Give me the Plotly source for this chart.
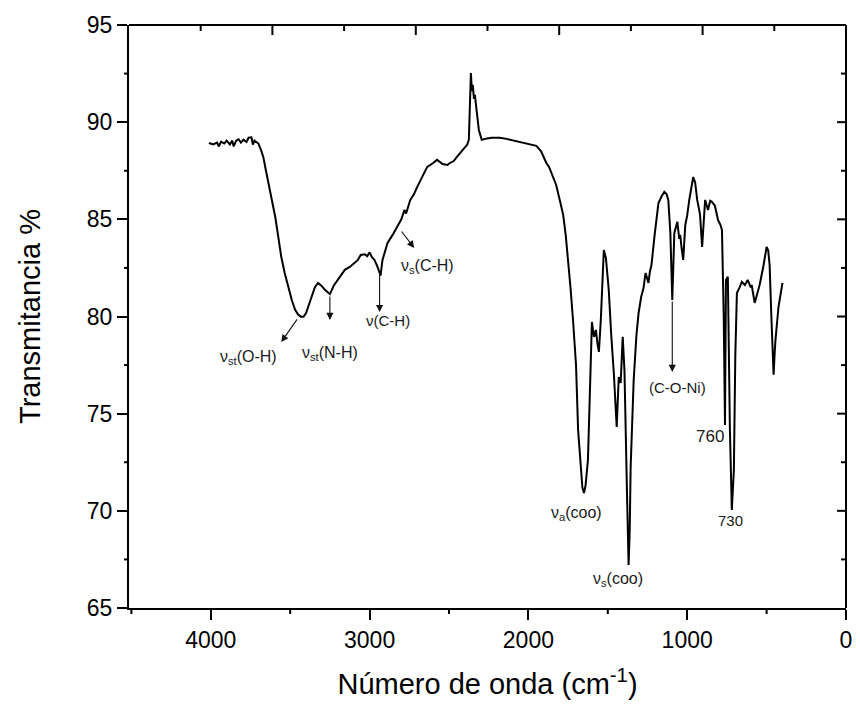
import plotly.graph_objects as go

# Spectrum (wavenumber cm-1, transmittance %)
wavenumber = [4012, 3985, 3960, 3950, 3935, 3915, 3900, 3880, 3865, 3856, 3840, 3825, 3810, 3794, 3775,
              3762, 3744, 3735, 3725, 3710, 3700, 3685, 3669, 3655, 3637, 3615, 3594, 3575, 3556, 3535,
              3512, 3490, 3469, 3450, 3431, 3415, 3400, 3385, 3369, 3345, 3325, 3305, 3281, 3250, 3225,
              3200, 3175, 3156, 3125, 3094, 3075, 3056, 3030, 3015, 3000, 2985, 2969, 2950, 2931, 2919,
              2900, 2887, 2855, 2825, 2800, 2781, 2770, 2744, 2720, 2700, 2670, 2637, 2600, 2575, 2540,
              2510, 2494, 2470, 2450, 2420, 2400, 2385, 2375, 2368, 2362, 2356, 2350, 2343, 2337, 2325,
              2312, 2294, 2270, 2231, 2180, 2137, 2090, 2044, 2000, 1950, 1920, 1906, 1887, 1870, 1856,
              1840, 1825, 1800, 1781, 1765, 1750, 1735, 1719, 1700, 1687, 1669, 1660, 1650, 1640, 1625,
              1612, 1600, 1587, 1575, 1565, 1556, 1544, 1535, 1525, 1512, 1494, 1478, 1462, 1444, 1431,
              1419, 1406, 1395, 1387, 1378, 1369, 1362, 1356, 1337, 1320, 1306, 1290, 1275, 1262, 1244,
              1235, 1225, 1205, 1181, 1160, 1144, 1130, 1119, 1106, 1094, 1081, 1062, 1050, 1044, 1035,
              1025, 1012, 1000, 987, 975, 962, 950, 937, 925, 919, 906, 895, 887, 869, 855,
              844, 825, 806, 790, 781, 770, 762, 756, 744, 738, 731, 719, 712, 706, 697,
              687, 670, 656, 637, 619, 600, 594, 575, 560, 544, 520, 500, 490, 481, 470,
              462, 456, 448, 444, 425, 406, 400]
transmittance = [88.93, 88.85, 88.95, 88.75, 89.0, 88.9, 89.05, 88.85, 89.05, 88.75, 89.05, 89.12, 88.95, 89.1, 88.98,
                 89.2, 89.22, 88.85, 89.05, 88.95, 88.9, 88.6, 88.2, 87.6, 86.87, 86.0, 85.12, 84.1, 83.06, 82.25,
                 81.52, 80.85, 80.34, 80.1, 79.98, 80.0, 80.18, 80.55, 81.01, 81.5, 81.73, 81.6, 81.37, 81.15, 81.6,
                 81.88, 82.2, 82.4, 82.55, 82.76, 82.9, 83.17, 83.2, 83.1, 83.3, 83.05, 82.91, 82.55, 82.1, 82.9,
                 83.4, 83.79, 84.2, 84.61, 85.0, 85.48, 85.3, 86.0, 86.3, 86.67, 87.2, 87.7, 87.9, 88.06, 87.85,
                 87.8, 87.9, 88.0, 88.21, 88.5, 88.73, 88.85, 89.09, 90.5, 92.53, 91.6, 91.92, 91.2, 91.4, 90.53,
                 89.6, 89.09, 89.15, 89.2, 89.2, 89.14, 89.05, 88.98, 88.9, 88.78, 88.5, 88.2, 87.9, 87.7, 87.44,
                 87.1, 86.77, 85.9, 85.23, 84.2, 82.91, 81.5, 79.82, 77.5, 74.16, 72.1, 71.2, 70.92, 71.3, 72.62,
                 76.0, 79.72, 78.95, 79.31, 78.6, 78.18, 79.82, 81.5, 83.42, 83.01, 81.37, 79.0, 77.09, 74.32, 76.89,
                 76.58, 78.95, 77.2, 74.68, 70.5, 67.21, 69.0, 72.26, 76.73, 79.0, 80.18, 81.0, 81.47, 82.24, 81.73,
                 82.3, 82.65, 84.2, 85.84, 86.2, 86.41, 86.3, 86.0, 84.3, 80.85, 84.3, 84.87, 84.0, 84.2, 83.5,
                 82.91, 84.71, 85.2, 86.0, 86.7, 87.18, 86.9, 86.0, 85.5, 85.23, 83.58, 85.0, 86.0, 85.48, 85.95,
                 85.9, 85.69, 84.97, 84.7, 84.45, 80.0, 74.42, 81.88, 82.04, 78.0, 74.16, 70.04, 71.0, 72.1, 78.0,
                 81.21, 81.5, 81.78, 81.62, 81.88, 81.5, 81.62, 80.7, 81.2, 81.62, 82.6, 83.58, 83.4, 82.65, 80.0,
                 77.5, 77.0, 78.3, 78.8, 80.5, 81.62, 81.73]

x_ticks = [4000, 3000, 2000, 1000, 0]
x_minor = [4500, 3500, 2500, 1500, 500]
y_major = [70, 75, 80, 85, 90]
y_minor = [67.5, 72.5, 77.5, 82.5, 87.5, 92.5]
top_major = [0.2, 0.4, 0.6, 0.8]          # fractions of the plot width (top frame ticks)
top_minor = [0.1, 0.3, 0.5, 0.7, 0.9]

# Band labels: text, x, y, font size
label_texts = ["ν<sub>st</sub>(O-H)", "ν<sub>st</sub>(N-H)", "ν(C-H)", "ν<sub>s</sub>(C-H)",
               "ν<sub>a</sub>(coo)", "ν<sub>s</sub>(coo)", "(C-O-Ni)", "760", "730"]
label_x = [3762, 3250, 2881, 2637, 1700, 1437, 1062, 856, 725]
label_y = [77.9, 78.1, 79.8, 82.55, 69.85, 66.45, 76.35, 73.8, 69.5]
label_size = [16, 16, 15, 16, 16, 16, 15, 17, 15]

# Arrows: tail (x0, y0) -> head (x1, y1)
arrow_x0 = [3450, 3250, 2937, 2806, 1094]
arrow_y0 = [79.93, 81.11, 82.24, 84.45, 80.85]
arrow_x1 = [3556, 3250, 2937, 2719, 1094]
arrow_y1 = [78.69, 79.82, 80.23, 83.53, 77.15]

FONT = "Liberation Sans, Arial, sans-serif"
X_RANGE = [4515, 0]
Y_RANGE = [65, 95]
PLOT_W, PLOT_H = 723, 583


def xfrac(v):
    return (X_RANGE[0] - v) / (X_RANGE[0] - X_RANGE[1])


def yfrac(v):
    return (v - Y_RANGE[0]) / (Y_RANGE[1] - Y_RANGE[0])


fig = go.Figure()
fig.add_trace(go.Scatter(x=wavenumber, y=transmittance, mode="lines",
                         line=dict(color="black", width=2), showlegend=False,
                         hoverinfo="skip"))

annotations = []
for t, x, y, s in zip(label_texts, label_x, label_y, label_size):
    annotations.append(dict(x=x, y=y, xref="x", yref="y", text=t, showarrow=False,
                            font=dict(family=FONT, size=s, color="#1a1a1a"),
                            xanchor="center", yanchor="middle"))
for x0, y0, x1, y1 in zip(arrow_x0, arrow_y0, arrow_x1, arrow_y1):
    annotations.append(dict(x=x1, y=y1, ax=x0, ay=y0, xref="x", yref="y",
                            axref="x", ayref="y", text="", showarrow=True,
                            arrowhead=2, arrowsize=1.3, arrowwidth=1.1,
                            arrowcolor="#111"))

# Frame (top/right) and all minor / inward ticks
frame = dict(color="black", width=2)
shapes = [
    dict(type="line", xref="paper", yref="paper", x0=0, x1=1, y0=1, y1=1, line=frame),
    dict(type="line", xref="paper", yref="paper", x0=1, x1=1, y0=0, y1=1, line=frame),
]
for f in top_major:
    shapes.append(dict(type="line", xref="paper", yref="paper", x0=f, x1=f,
                       y0=1, y1=1 - 10 / PLOT_H, line=frame))
for f in top_minor:
    shapes.append(dict(type="line", xref="paper", yref="paper", x0=f, x1=f,
                       y0=1, y1=1 - 6 / PLOT_H, line=frame))
for v in y_major:
    shapes.append(dict(type="line", xref="paper", yref="paper", x0=1, x1=1 - 9 / PLOT_W,
                       y0=yfrac(v), y1=yfrac(v), line=frame))
for v in y_minor:
    shapes.append(dict(type="line", xref="paper", yref="paper", x0=1, x1=1 - 5 / PLOT_W,
                       y0=yfrac(v), y1=yfrac(v), line=frame))
    shapes.append(dict(type="line", xref="paper", yref="paper", x0=0, x1=-5 / PLOT_W,
                       y0=yfrac(v), y1=yfrac(v), line=frame))
for v in x_minor:
    shapes.append(dict(type="line", xref="paper", yref="paper", x0=xfrac(v), x1=xfrac(v),
                       y0=0, y1=-6 / PLOT_H, line=frame))

fig.update_layout(
    width=860, height=704,
    margin=dict(l=129, r=8, t=25, b=96),
    paper_bgcolor="white", plot_bgcolor="white",
    font=dict(family=FONT, color="black"),
    showlegend=False,
    annotations=annotations,
    shapes=shapes,
    xaxis=dict(range=X_RANGE, tickmode="linear", tick0=0, dtick=1000,
               ticks="outside", ticklen=10, tickwidth=2,
               tickcolor="black", showline=True, linewidth=2, linecolor="black",
               showgrid=False, zeroline=False, tickfont=dict(size=23, family=FONT),
               title=dict(text="Número de onda (cm<sup>-1</sup>)",
                          font=dict(size=29, family=FONT), standoff=22)),
    yaxis=dict(range=Y_RANGE, tickmode="linear", dtick=5, tick0=65,
               ticks="outside", ticklen=10, tickwidth=2,
               tickcolor="black", showline=True, linewidth=2, linecolor="black",
               showgrid=False, zeroline=False, tickfont=dict(size=23, family=FONT),
               title=dict(text="Transmitancia %", font=dict(size=29, family=FONT), standoff=38)),
)

fig.write_html("out.html")
